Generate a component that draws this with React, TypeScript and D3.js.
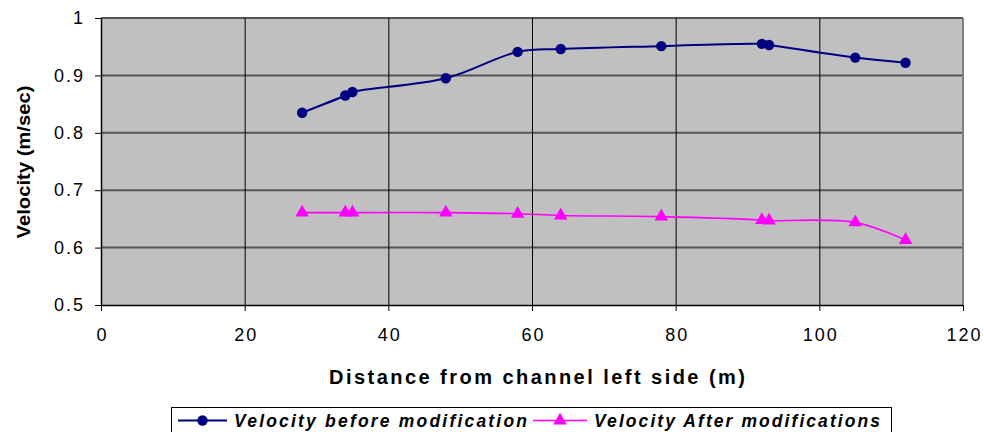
import React, { useEffect, useRef } from 'react';
import * as d3 from 'd3';

// distances (m) and velocities (m/sec)
const distances = [28, 34, 35, 48, 58, 64, 78, 92, 93, 105, 112];
const velocityBefore = [0.835, 0.865, 0.871, 0.895, 0.941, 0.946, 0.951, 0.955, 0.953, 0.931, 0.922];
const velocityAfter = [0.661, 0.661, 0.661, 0.661, 0.659, 0.656, 0.654, 0.648, 0.647, 0.644, 0.613];

const xTicks = [0, 20, 40, 60, 80, 100, 120];
const yTicks = [0.5, 0.6, 0.7, 0.8, 0.9, 1];

const seriesNames = ['Velocity before modification', 'Velocity After modifications'];

const FONT = 'Arial, "Liberation Sans", sans-serif';

export default function App() {
  const svgRef = useRef<SVGSVGElement>(null);

  useEffect(() => {
    if (!svgRef.current) return;
    const width = 984;
    const height = 432;
    const left = 101, right = 963, top = 18, bottom = 305;

    const svg = d3.select(svgRef.current);
    svg.selectAll('*').remove();

    const x = d3.scaleLinear().domain([0, 120]).range([left, right]);
    const y = d3.scaleLinear().domain([0.5, 1]).range([bottom, top]);

    // plot background
    svg.append('rect')
      .attr('x', left).attr('y', top)
      .attr('width', right - left).attr('height', bottom - top)
      .attr('fill', '#c0c0c0');

    // horizontal gridlines
    yTicks.filter(t => t > 0.5).forEach(t => {
      svg.append('line')
        .attr('x1', left).attr('x2', right)
        .attr('y1', y(t)).attr('y2', y(t))
        .attr('stroke', '#555').attr('stroke-width', 2);
    });

    // vertical gridlines
    xTicks.filter(t => t > 0 && t < 120).forEach(t => {
      svg.append('line')
        .attr('x1', x(t) + 0.5).attr('x2', x(t) + 0.5)
        .attr('y1', top).attr('y2', bottom)
        .attr('stroke', '#000').attr('stroke-width', 1);
    });

    // right border
    svg.append('line')
      .attr('x1', right).attr('x2', right)
      .attr('y1', top).attr('y2', bottom)
      .attr('stroke', '#808080').attr('stroke-width', 2);

    // axes
    const xAxis = d3.axisBottom(x).tickValues(xTicks).tickSize(6).tickSizeOuter(0)
      .tickFormat(d => String(d));
    const gx = svg.append('g').attr('transform', `translate(0,${bottom})`).call(xAxis);
    gx.select('.domain').attr('stroke', '#000').attr('stroke-width', 1.5);
    gx.selectAll('.tick line').attr('stroke', '#000');
    gx.selectAll('.tick text')
      .attr('font-family', FONT).attr('font-size', 18).attr('fill', '#000')
      .style('letter-spacing', '2px').attr('dx', 1)
      .attr('y', 36).attr('dy', 0);

    const yAxis = d3.axisLeft(y).tickValues(yTicks).tickSize(6).tickSizeOuter(0).tickPadding(12)
      .tickFormat(d => (d as number) === 1 ? '1' : d3.format('.1f')(d as number));
    const gy = svg.append('g').attr('transform', `translate(${left},0)`).call(yAxis);
    gy.select('.domain').attr('stroke', '#000').attr('stroke-width', 1.5);
    gy.selectAll('.tick line').attr('stroke', '#000');
    gy.selectAll('.tick text')
      .attr('font-family', FONT).attr('font-size', 18).attr('fill', '#000')
      .style('letter-spacing', '2px').attr('dx', 2);

    // lines
    const before = distances.map((d, i) => [d, velocityBefore[i]] as [number, number]);
    const after = distances.map((d, i) => [d, velocityAfter[i]] as [number, number]);
    const line = d3.line<[number, number]>()
      .x(d => x(d[0])).y(d => y(d[1]))
      .curve(d3.curveCatmullRom.alpha(0.5));

    svg.append('path').attr('d', line(before)).attr('fill', 'none')
      .attr('stroke', '#000080').attr('stroke-width', 2);
    svg.append('path').attr('d', line(after)).attr('fill', 'none')
      .attr('stroke', '#ff00ff').attr('stroke-width', 1.6);

    const circle = d3.symbol().type(d3.symbolCircle).size(85);
    const tri = d3.symbol().type(d3.symbolTriangle).size(80);

    svg.selectAll('.mb').data(before).enter().append('path')
      .attr('d', circle).attr('fill', '#000080')
      .attr('transform', d => `translate(${x(d[0])},${y(d[1])})`);
    svg.selectAll('.ma').data(after).enter().append('path')
      .attr('d', tri).attr('fill', '#ff00ff')
      .attr('transform', d => `translate(${x(d[0])},${y(d[1])})`);

    // axis titles
    svg.append('text')
      .attr('x', 537).attr('y', 384)
      .attr('text-anchor', 'middle')
      .attr('font-family', FONT).attr('font-size', 20).attr('font-weight', 'bold')
      .attr('textLength', 416).attr('lengthAdjust', 'spacing')
      .text('Distance from channel left side (m)');

    svg.append('text')
      .attr('transform', `translate(30,162) rotate(-90)`)
      .attr('text-anchor', 'middle')
      .attr('font-family', FONT).attr('font-size', 19).attr('font-weight', 'bold')
      .attr('textLength', 153).attr('lengthAdjust', 'spacingAndGlyphs')
      .text('Velocity (m/sec)');

    // legend
    svg.append('rect')
      .attr('x', 171.5).attr('y', 407.5).attr('width', 720).attr('height', 30)
      .attr('fill', '#fff').attr('stroke', '#000').attr('stroke-width', 1);

    const legendItems = [
      { name: seriesNames[0], color: '#000080', sym: circle, x0: 178, x1: 227, tx: 234, tw: 293, sw: 2 },
      { name: seriesNames[1], color: '#ff00ff', sym: tri, x0: 533, x1: 587, tx: 594, tw: 286, sw: 1.6 },
    ];
    legendItems.forEach(it => {
      svg.append('line')
        .attr('x1', it.x0).attr('x2', it.x1).attr('y1', 420.5).attr('y2', 420.5)
        .attr('stroke', it.color).attr('stroke-width', it.sw);
      svg.append('path').attr('d', it.sym).attr('fill', it.color)
        .attr('transform', `translate(${(it.x0 + it.x1) / 2},420.5)`);
      svg.append('text')
        .attr('x', it.tx).attr('y', 426.5)
        .attr('font-family', FONT).attr('font-size', 17.5)
        .attr('font-weight', 'bold').attr('font-style', 'italic')
        .attr('textLength', it.tw).attr('lengthAdjust', 'spacing')
        .text(it.name);
    });

    svg.attr('width', width).attr('height', height);
  }, []);

  return (
    <svg ref={svgRef} width={984} height={432}
      style={{ position: 'absolute', left: 0, top: 0, background: '#fff' }} />
  );
}
